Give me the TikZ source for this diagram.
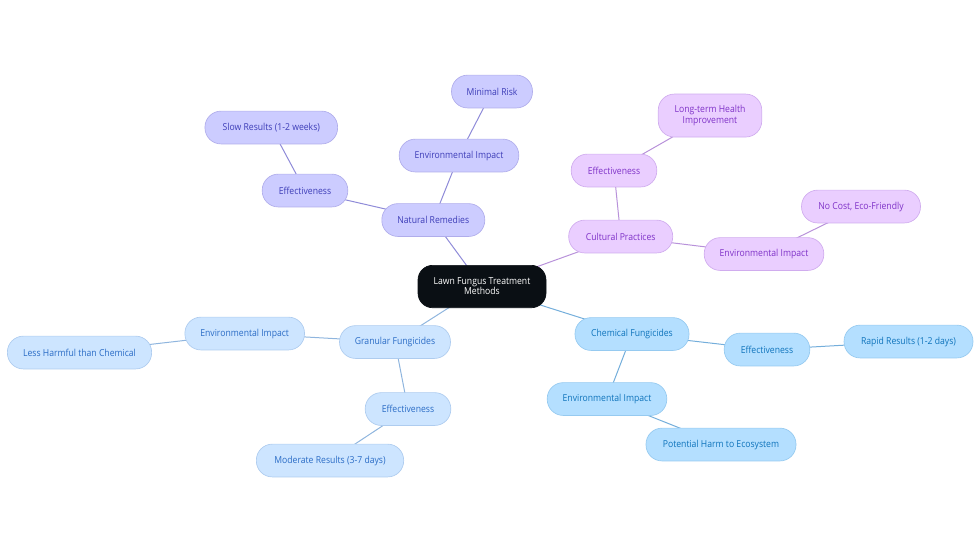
\documentclass[tikz,border=0pt]{standalone}
\usepackage{fontspec}
\setmainfont[FakeStretch=0.9]{Open Sans}
\usetikzlibrary{backgrounds}
\definecolor{pF}{HTML}{CCCCFF}\definecolor{pD}{HTML}{B0ADEB}\definecolor{pT}{HTML}{3D3DB8}\definecolor{pL}{HTML}{8F8BD8}
\definecolor{vF}{HTML}{EACEFF}\definecolor{vD}{HTML}{D0ACEE}\definecolor{vT}{HTML}{7F32C8}\definecolor{vL}{HTML}{B892DA}
\definecolor{bF}{HTML}{B4DFFF}\definecolor{bD}{HTML}{96CAF0}\definecolor{bT}{HTML}{0F74BC}\definecolor{bL}{HTML}{74AEDB}
\definecolor{lF}{HTML}{CDE5FF}\definecolor{lD}{HTML}{AECCEF}\definecolor{lT}{HTML}{2A6CC6}\definecolor{lL}{HTML}{8FB5DE}
\definecolor{rootF}{HTML}{0A0F14}
\tikzset{
  x=0.75pt,y=-0.75pt,
  box/.style={rectangle,rounded corners=12pt,inner sep=0pt,line width=0.5pt,minimum height=24.6pt,align=center,yshift=-0.4pt,font=\fontsize{7.2}{7.6}\selectfont},
  pbox/.style={box,fill=pF,draw=pD,text=pT},
  vbox/.style={box,fill=vF,draw=vD,text=vT},
  bbox/.style={box,fill=bF,draw=bD,text=bT},
  lbox/.style={box,fill=lF,draw=lD,text=lT},
  rootbox/.style={box,fill=rootF,draw=rootF,text=white,rounded corners=11pt},
  plink/.style={draw=pL,line width=0.75pt},
  vlink/.style={draw=vL,line width=0.75pt},
  blink/.style={draw=bL,line width=0.75pt},
  llink/.style={draw=lL,line width=0.75pt},
}
\begin{document}
\begin{tikzpicture}
\useasboundingbox (0,0) rectangle (980,553);
\node[rootbox,minimum width=96pt,minimum height=31.8pt] (root) at (482,286) {Lawn Fungus Treatment\\Methods};
% purple
\node[pbox,minimum width=77.2pt] (nat) at (433.3,219.5) {Natural Remedies};
\node[pbox,minimum width=89.7pt] (nenv) at (459,155) {Environmental Impact};
\node[pbox,minimum width=60.7pt] (nrisk) at (492,91) {Minimal Risk};
\node[pbox,minimum width=64.2pt] (neff) at (305,190) {Effectiveness};
\node[pbox,minimum width=99.5pt] (nslow) at (271.3,127) {Slow Results (1-2 weeks)};
% violet
\node[vbox,minimum width=78pt] (cul) at (620.7,236) {Cultural Practices};
\node[vbox,minimum width=64.2pt] (ceff) at (614,170) {Effectiveness};
\node[vbox,minimum width=77.6pt,minimum height=32.2pt] (clong) at (710,115) {Long-term Health\\Improvement};
\node[vbox,minimum width=89.7pt] (cenv) at (764,253.5) {Environmental Impact};
\node[vbox,minimum width=89.2pt] (ccost) at (861,206) {No Cost, Eco-Friendly};
% blue
\node[bbox,minimum width=85.5pt] (che) at (632,333.5) {Chemical Fungicides};
\node[bbox,minimum width=64.2pt] (beff) at (767,349) {Effectiveness};
\node[bbox,minimum width=96.7pt] (brap) at (908.5,341) {Rapid Results (1-2 days)};
\node[bbox,minimum width=89.7pt] (benv) at (607,398.5) {Environmental Impact};
\node[bbox,minimum width=112.5pt] (bharm) at (721,444) {Potential Harm to Ecosystem};
% light
\node[lbox,minimum width=83.2pt] (gra) at (395,341.5) {Granular Fungicides};
\node[lbox,minimum width=89.7pt] (genv) at (244.7,333) {Environmental Impact};
\node[lbox,minimum width=108.2pt] (gless) at (79.5,352) {Less Harmful than Chemical};
\node[lbox,minimum width=64.2pt] (geff) at (408,408.5) {Effectiveness};
\node[lbox,minimum width=110.5pt] (gmod) at (330,460) {Moderate Results (3-7 days)};
\begin{scope}[on background layer]
\path[plink] (root.center) -- (nat.center);
\path[plink] (nat.center) -- (nenv.center);
\path[plink] (nenv.center) -- (nrisk.center);
\path[plink] (nat.center) -- (neff.center);
\path[plink] (neff.center) -- (nslow.center);
\path[vlink] (root.center) -- (cul.center);
\path[vlink] (cul.center) -- (ceff.center);
\path[vlink] (ceff.center) -- (clong.center);
\path[vlink] (cul.center) -- (cenv.center);
\path[vlink] (cenv.center) -- (ccost.center);
\path[blink] (root.center) -- (che.center);
\path[blink] (che.center) -- (beff.center);
\path[blink] (beff.center) -- (brap.center);
\path[blink] (che.center) -- (benv.center);
\path[blink] (benv.center) -- (bharm.center);
\path[llink] (root.center) -- (gra.center);
\path[llink] (gra.center) -- (genv.center);
\path[llink] (genv.center) -- (gless.center);
\path[llink] (gra.center) -- (geff.center);
\path[llink] (geff.center) -- (gmod.center);
\end{scope}
\end{tikzpicture}
\end{document}
